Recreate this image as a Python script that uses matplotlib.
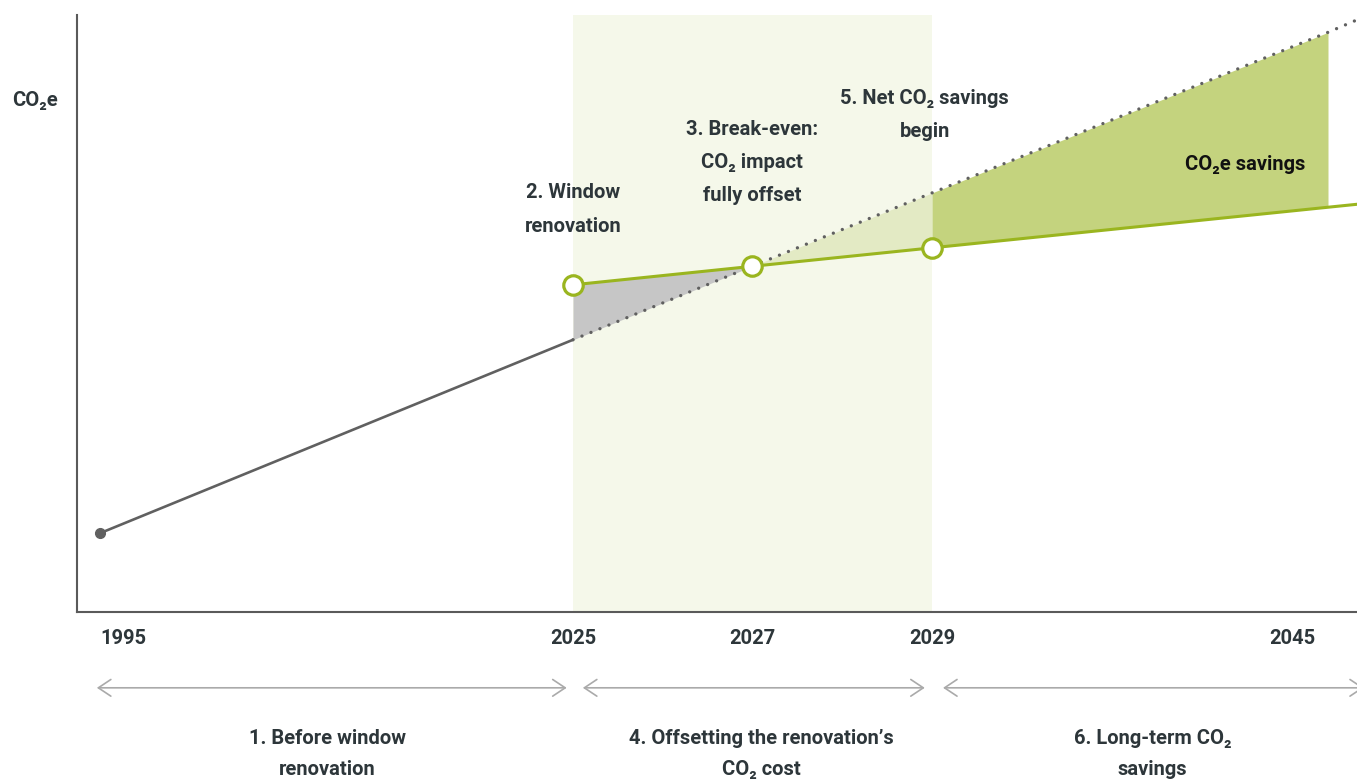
import numpy as np
import matplotlib
matplotlib.use("Agg")
import matplotlib.pyplot as plt
from matplotlib.transforms import blended_transform_factory

plt.rcParams['font.family'] = ['Roboto', 'DejaVu Sans']

# ---- data ----
tick_years = [1995, 2025, 2027, 2029, 2045]
tick_labels = ["1995", "2025", "2027", "2029", "2045"]

base_years = [1995, 2025]
base_vals = [13.2, 45.6]

proj_years = [2025, 2027, 2029, 2046.6, 2047.9]
proj_vals = [45.6, 57.9, 70.2, 97.1, 99.2]

green_years = [2025, 2027, 2029, 2046.6, 2047.9]
green_vals = [54.8, 57.9, 61.0, 67.8, 68.3]

marker_years = [2025, 2027, 2029]
marker_vals = [54.8, 57.9, 61.0]

# piecewise (non-proportional) time axis
knot_years = np.array([1900, 1995, 2025, 2027, 2029, 2045, 2100])
knot_pos = np.array([-1398.0, 100, 573, 752, 932, 1292, 2529.5])

def fwd(y):
    return np.interp(y, knot_years, knot_pos)

def inv(p):
    return np.interp(p, knot_pos, knot_years)

W, H = 1357, 781
fig = plt.figure(figsize=(W / 100, H / 100), dpi=100)
ax = fig.add_axes([77 / W, (H - 612) / H, 1 - 77 / W, (612 - 15) / H])
ax.set_xscale('function', functions=(fwd, inv))
ax.set_xlim(inv(77), inv(1357))
ax.set_ylim(0, 100)

TXT = '#2d363a'
GREEN = '#9ab51f'
GRAY = '#606060'
FS = 14.5

# band
ax.axvspan(2025, 2029, color='#f5f8ea', zorder=0, lw=0)

# fills
ax.fill_between(green_years[:2], proj_vals[:2], green_vals[:2], color='#c6c6c6', lw=0, zorder=1)
ax.fill_between(green_years[1:3], proj_vals[1:3], green_vals[1:3], color='#e3eac4', lw=0, zorder=1)
ax.fill_between(green_years[2:4], proj_vals[2:4], green_vals[2:4], color='#c4d37e', lw=0, zorder=1)

# lines
ax.plot(base_years, base_vals, color=GRAY, lw=1.9, zorder=3, solid_capstyle='round')
ax.plot(base_years[:1], base_vals[:1], 'o', color=GRAY, ms=7, zorder=4)
ax.plot(proj_years, proj_vals, color=GRAY, lw=2.4, ls=(0, (0.01, 2.9)),
        dash_capstyle='round', zorder=3)
ax.plot(green_years, green_vals, color=GREEN, lw=2.2, zorder=4)
ax.plot(marker_years, marker_vals, 'o', ms=14, mfc='white', mec=GREEN, mew=2.3, zorder=5)

# spines / ticks
for s in ['top', 'right']:
    ax.spines[s].set_visible(False)
for s in ['left', 'bottom']:
    ax.spines[s].set_color('#5a5a5a')
    ax.spines[s].set_linewidth(1.5)
ax.set_yticks([])
ax.set_xticks(tick_years)
ax.set_xticklabels(tick_labels, fontsize=FS, fontweight='bold', color=TXT)
ax.get_xticklabels()[0].set_ha('left')
ax.tick_params(axis='x', length=0, pad=12)

# annotations
kw = dict(ha='center', va='center', fontsize=FS, fontweight='bold', color=TXT, linespacing=1.95)
ax.text(2025, 67.4, "2. Window\nrenovation", **kw)
ax.text(2027, 75.3, "3. Break-even:\nCO\u2082 impact\nfully offset", **kw)
ax.text(2028.92, 83.3, "5. Net CO\u2082 savings\nbegin", **kw)
ax.text(2042.9, 75.0, "CO\u2082e savings", ha='center', va='center', fontsize=FS,
        fontweight='bold', color='#111111')
fig.text(35 / W, 1 - 100 / H, "CO\u2082e", ha='center', va='center', fontsize=FS,
         fontweight='bold', color=TXT)

# period arrows and labels below axis
tr = blended_transform_factory(ax.transData, ax.transAxes)
arrow_spans = [(1994.8, 2024.6), (2025.11, 2028.92), (2029.49, 2048.2)]
for x0, x1 in arrow_spans:
    ax.annotate('', xy=(x1, -0.127), xytext=(x0, -0.127), xycoords=tr, textcoords=tr,
                annotation_clip=False,
                arrowprops=dict(arrowstyle='<->,head_length=0.45,head_width=0.3',
                                color='#aaaaaa', lw=1.2, shrinkA=0, shrinkB=0,
                                mutation_scale=20))

bottom_labels = [(2009.4, "1. Before window\nrenovation"),
                 (2027.1, "4. Offsetting the renovation\u2019s\nCO\u2082 cost"),
                 (2038.8, "6. Long-term CO\u2082\nsavings")]
bkw = dict(kw, linespacing=1.85)
for x, t in bottom_labels:
    ax.text(x, -0.238, t, transform=tr, **bkw, clip_on=False)

fig.savefig("out.png", dpi=100)
